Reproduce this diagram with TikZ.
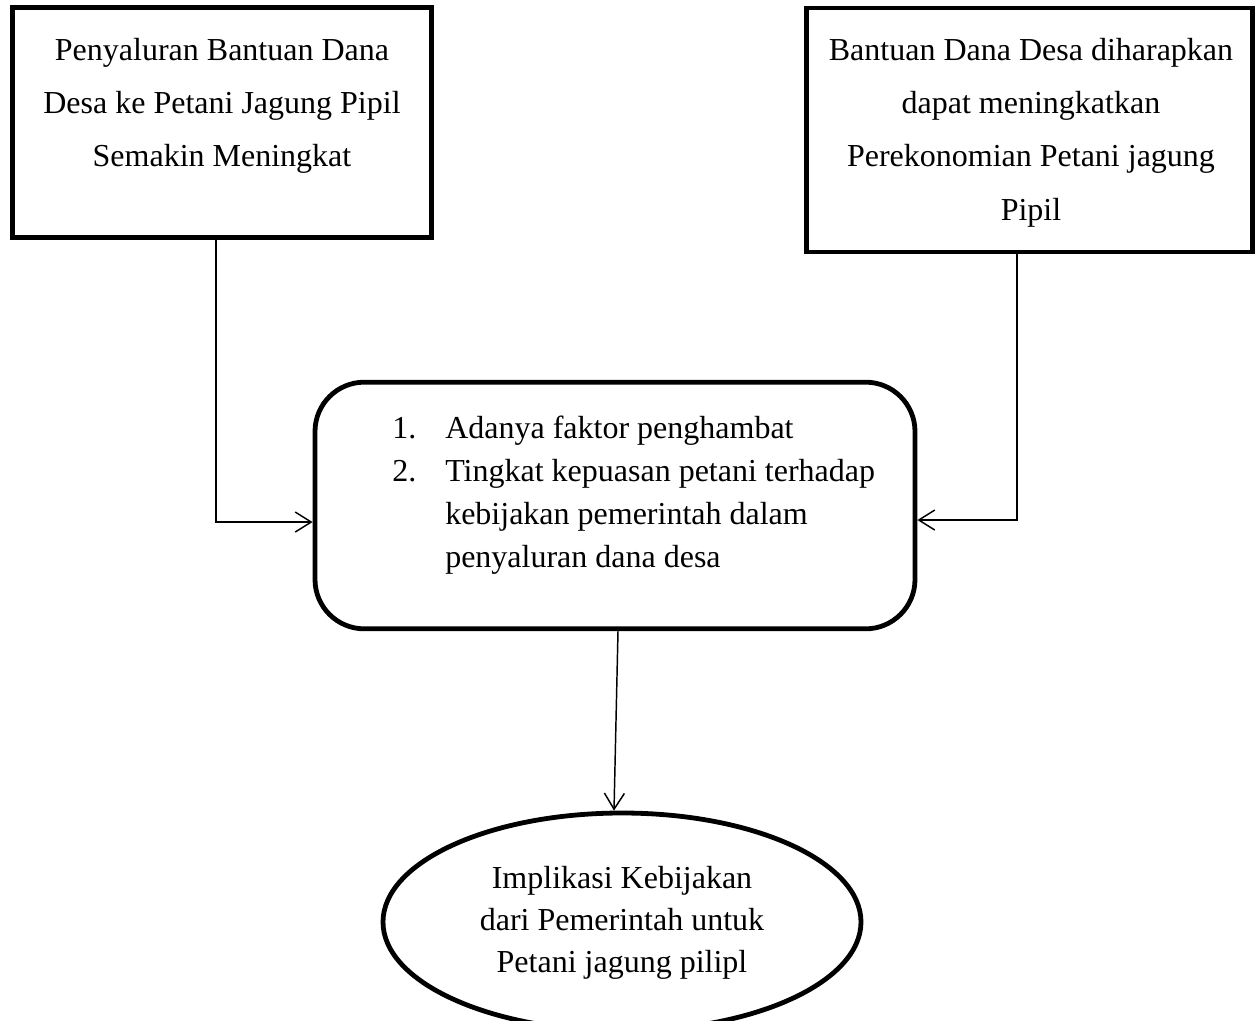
\documentclass[tikz,border=0pt]{standalone}
\usepackage{fontspec}
\setmainfont{Liberation Serif}
\usetikzlibrary{arrows.meta,shapes.geometric}
\begin{document}
\begin{tikzpicture}[x=0.75pt,y=-0.75pt,
  squarebox/.style={draw, line width=3.6pt, inner sep=0pt},
  roundbox/.style={draw, line width=3.6pt, rounded corners=37pt, inner sep=0pt},
  oval/.style={ellipse, draw, line width=3.6pt, inner sep=0pt},
  txt/.style={inner sep=0pt, anchor=base},
  conn/.style={line width=1.1pt, -{Straight Barb[length=12pt,width=15pt]}}]
\useasboundingbox (0,0) rectangle (1257,1021);
% boxes
\node[squarebox, minimum width=314pt, minimum height=173pt] (b1) at (222,122.5) {};
\node[squarebox, minimum width=335pt, minimum height=183pt] (b2) at (1029.5,130) {};
\node[roundbox, minimum width=450pt, minimum height=185pt] (mid) at (615,505.5) {};
\node[oval, minimum width=358.5pt, minimum height=163.5pt] (ell) at (622,922) {};
% texts
\node[txt] (t1) at (222,60) {\fontsize{24}{40}\selectfont\begin{tabular}[t]{@{}c@{}}
Penyaluran Bantuan Dana\\ Desa ke Petani Jagung Pipil\\ Semakin Meningkat\end{tabular}};
\node[txt] (t2) at (1031,60) {\fontsize{24}{40}\selectfont\begin{tabular}[t]{@{}c@{}}
Bantuan Dana Desa diharapkan\\ dapat meningkatkan\\ Perekonomian Petani jagung\\ Pipil\end{tabular}};
\node[txt, anchor=base west] (t3) at (392,438) {\fontsize{24}{32.25}\selectfont\begin{tabular}[t]{@{}p{39.75pt}@{}l@{}}
1. & Adanya faktor penghambat\\
2. & Tingkat kepuasan petani terhadap\\
 & kebijakan pemerintah dalam\\
 & penyaluran dana desa\end{tabular}};
\node[txt] (t4) at (622,888) {\fontsize{24}{31.5}\selectfont\begin{tabular}[t]{@{}c@{}}
Implikasi Kebijakan\\ dari Pemerintah untuk\\ Petani jagung pilipl\end{tabular}};
% connectors
\draw[conn] ([xshift=-4.5pt]b1.south) |- ([yshift=-12.4pt]mid.west);
\draw[conn] ([xshift=-9.4pt]b2.south) |- ([yshift=-10.9pt]mid.east);
\draw[conn] ([xshift=2.25pt]mid.south) -- ([xshift=-6pt]ell.north);
\end{tikzpicture}
\end{document}
